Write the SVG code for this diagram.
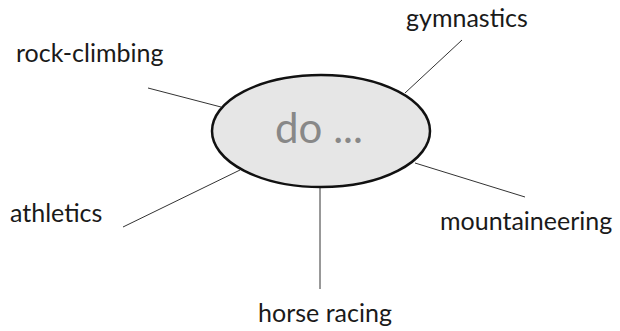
<svg xmlns="http://www.w3.org/2000/svg" width="620" height="331" viewBox="0 0 620 331">
<style>
.lbl{font-family:Lato,"Open Sans",sans-serif;font-size:25px;fill:#1a1a1a}
.con line{stroke:#333;stroke-width:1}
</style>
<rect width="620" height="331" fill="#fff"/>
<g class="con" id="connectors">
<line x1="405" y1="93" x2="462" y2="40"/>
<line x1="148" y1="88" x2="221" y2="107"/>
<line x1="123" y1="227" x2="240" y2="170"/>
<line x1="320" y1="187" x2="320" y2="289"/>
<line x1="415" y1="163" x2="525" y2="197"/>
</g>
<g id="center">
<ellipse cx="321" cy="131" rx="109" ry="56" fill="#e6e6e6" stroke="#111" stroke-width="2.5"/>
<text x="319" y="143" text-anchor="middle" font-family="Lato,'Open Sans',sans-serif" font-size="42" fill="#888">do ...</text>
</g>
<g id="n-rock"><text class="lbl" x="16" y="62">rock-climbing</text></g>
<g id="n-gym"><text class="lbl" x="406" y="27">gymnastics</text></g>
<g id="n-ath"><text class="lbl" x="10" y="222">athletics</text></g>
<g id="n-mount"><text class="lbl" x="440" y="230">mountaineering</text></g>
<g id="n-horse"><text class="lbl" x="325" y="322" text-anchor="middle">horse racing</text></g>
</svg>
